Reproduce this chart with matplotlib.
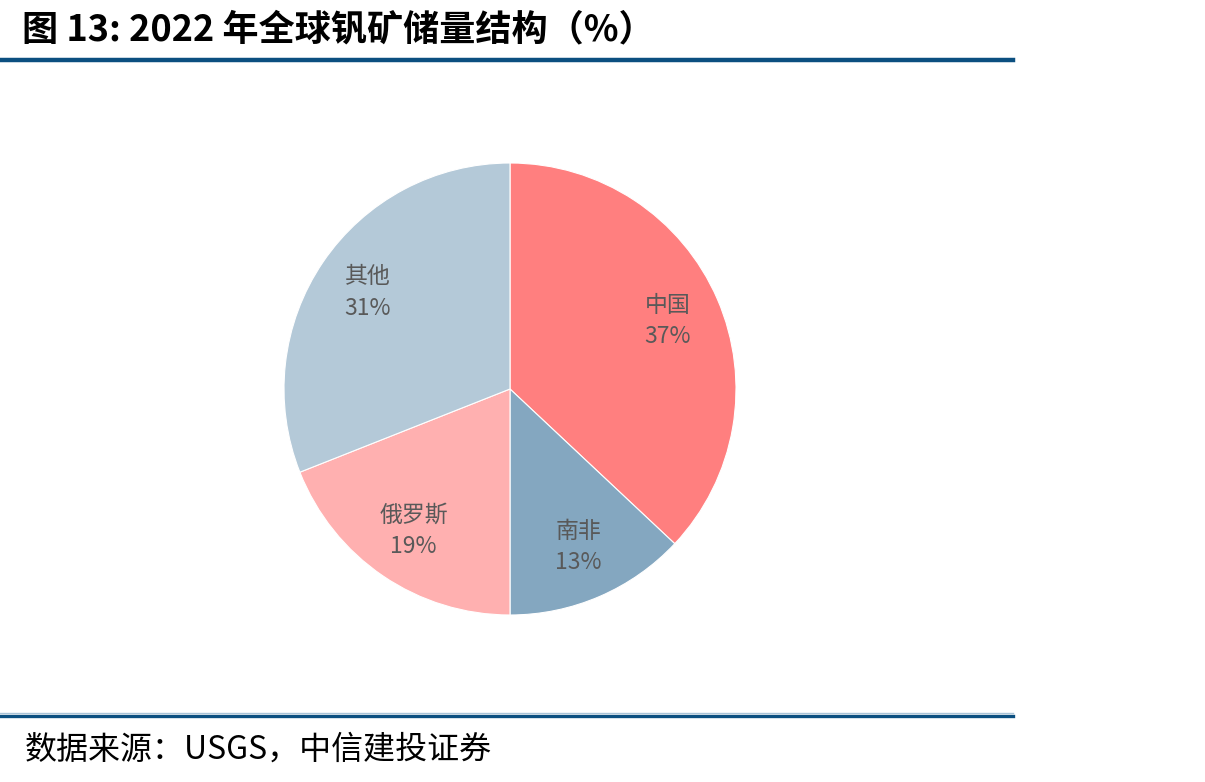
import matplotlib.pyplot as plt
from matplotlib.lines import Line2D

plt.rcParams['font.family'] = ['Noto Sans CJK SC', 'DejaVu Sans']

# data
countries = ['中国', '南非', '俄罗斯', '其他']
shares = [37, 13, 19, 31]
colors = ['#FF7F7F', '#84A7C0', '#FFB0B0', '#B4C9D8']

title = '图 13: 2022 年全球钒矿储量结构（%）'
source = '数据来源：USGS，中信建投证券'

W, H = 1205, 782
fig = plt.figure(figsize=(W / 100, H / 100), dpi=100)

# pie axes: centre (510, 389), radius 226 px
cx, cy, r = 510, 389, 226
ax = fig.add_axes([(cx - r) / W, (H - cy - r) / H, 2 * r / W, 2 * r / H])

labels = [f'{c}\n{v}%' for c, v in zip(countries, shares)]
wedges, texts = ax.pie(shares, colors=colors, startangle=90, counterclock=False,
                       labels=labels, labeldistance=0.76,
                       wedgeprops=dict(edgecolor='white', linewidth=0.8))
for t in texts:
    t.set_ha('center')
    t.set_va('center')
    t.set_color('#595959')
    t.set_fontsize(16.5)
    t.set_linespacing(1.45)
ax.set_xlim(-1, 1)
ax.set_ylim(-1, 1)
ax.set_aspect('equal')
ax.axis('off')

# title and rules
fig.text(22 / W, 1 - 30 / H, title, fontsize=26, fontweight='bold',
         ha='left', va='center', color='black')
fig.add_artist(Line2D([0, 1013 / W], [1 - 60 / H] * 2, color='#0B4F80', lw=3.2))
fig.add_artist(Line2D([0, 1013 / W], [1 - 713 / H] * 2, color='#A9C4D8', lw=1.0))
fig.add_artist(Line2D([0, 1013 / W], [1 - 716 / H] * 2, color='#0B4F80', lw=2.4))

fig.text(25 / W, 1 - 750 / H, source, fontsize=23, style='italic',
         ha='left', va='center', color='black')

fig.savefig('out.png', dpi=100)
